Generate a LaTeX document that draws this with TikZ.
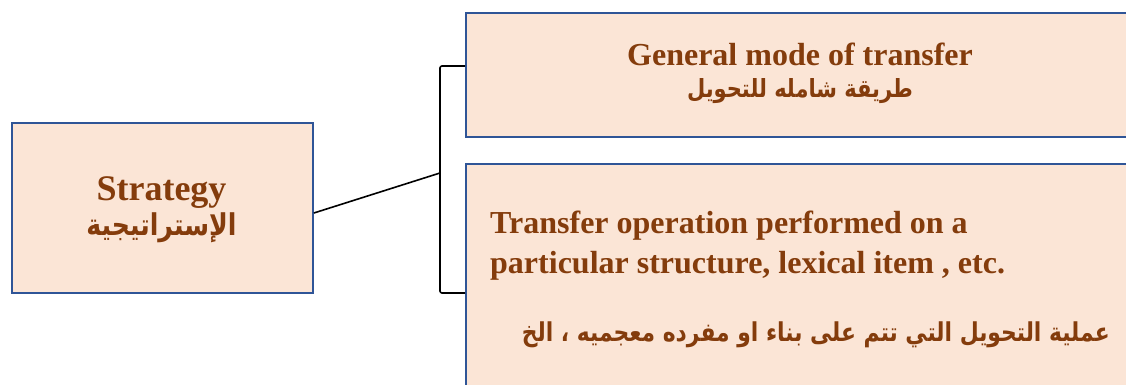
\documentclass[tikz,border=0pt]{standalone}
\usepackage{fontspec}
\setmainfont{Liberation Serif}
\newfontfamily\arabicfont[Script=Arabic]{DejaVu Sans}
\TeXXeTstate=1
\definecolor{boxfill}{HTML}{FBE5D6}
\definecolor{boxline}{HTML}{2F5597}
\definecolor{txtbrown}{HTML}{843C0C}
% condensed bold Arabic line: #1 = size in pt, #2 = text (already in \beginR...\endR)
\newcommand{\arline}[2]{\scalebox{0.84}[1]{\arabicfont\bfseries\fontsize{#1}{#1}\selectfont #2}}
\tikzset{
  box/.style={draw=boxline, line width=1.8pt, fill=boxfill, rectangle, inner sep=0pt},
  entxt/.style={text=txtbrown, font=\bfseries\fontsize{32}{38}\selectfont, inner sep=0pt},
  artxt/.style={text=txtbrown, inner sep=0pt},
  brace/.style={draw=black, line width=1.6pt, rounded corners=2pt}
}
\begin{document}
\begin{tikzpicture}[x=1pt,y=-1pt]
\useasboundingbox (0,0) rectangle (1126,385);
% boxes
\node[box, minimum width=301pt, minimum height=170pt] (strat) at (162.5,208) {};
\node[box, minimum width=668pt, minimum height=124pt] (gen) at (800,75) {};
\node[box, minimum width=668pt, minimum height=240pt] (op) at (800,284) {};
% left box text
\node[entxt, anchor=base, font=\bfseries\fontsize{36}{40}\selectfont] (stratEn) at (161.5,200) {Strategy};
\node[artxt, anchor=base] (stratAr) at (161.5,235) {\arline{30}{\beginR الإستراتيجية\endR}};
% upper right box text
\node[entxt, anchor=base] (genEn) at (800,66) {General mode of transfer};
\node[artxt, anchor=base] (genAr) at (800,98) {\arline{25}{\beginR طريقة شامله للتحويل\endR}};
% lower right box text
\node[entxt, anchor=base west] (opEn1) at (490,233) {Transfer operation performed on a};
\node[entxt, anchor=base west] (opEn2) at (490,273) {particular structure, lexical item , etc.};
\node[artxt, anchor=base east] (opAr) at (1110,341) {\arline{26}{\beginR عملية التحويل التي تتم على بناء او مفرده معجميه ، الخ\endR}};
% bracket joining the two right boxes to the left one
\coordinate (brTop) at (440,66);
\coordinate (brBot) at (440,293);
\coordinate (brMid) at (440,173);
\draw[brace] (gen.west |- brTop) -- (brTop) -- (brBot) -- (op.west |- brBot);
\draw[line width=1.6pt] (strat.east |- 0,213) -- (brMid);
\end{tikzpicture}
\end{document}
